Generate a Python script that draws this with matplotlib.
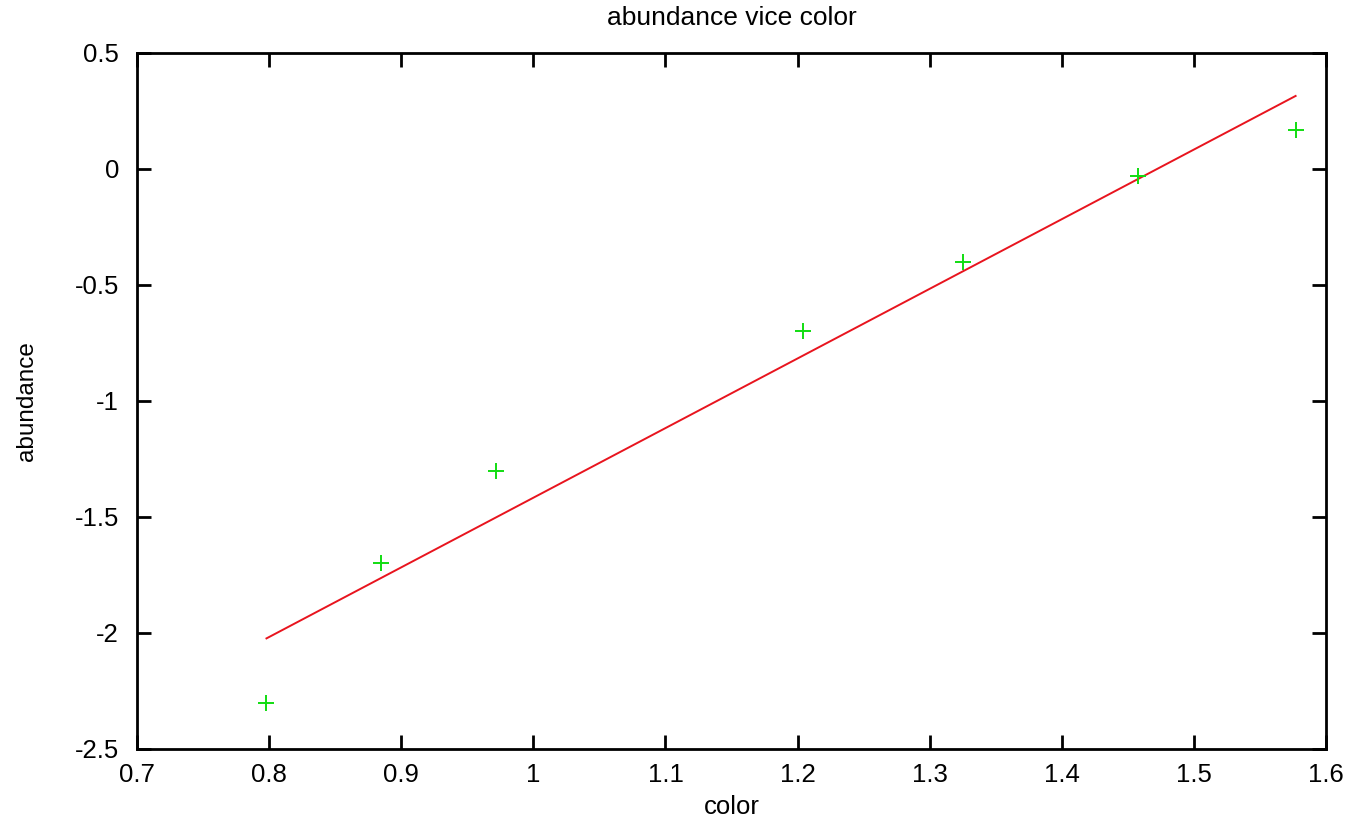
import numpy as np
import matplotlib
matplotlib.use("Agg")
import matplotlib.pyplot as plt

plt.rcParams['font.family'] = ['Liberation Sans', 'DejaVu Sans']

# Measured colour index and abundance
color = [0.798, 0.885, 0.972, 1.204, 1.325, 1.458, 1.577]
abundance = [-2.30, -1.70, -1.30, -0.70, -0.40, -0.03, 0.17]

x_ticks = [0.7, 0.8, 0.9, 1.0, 1.1, 1.2, 1.3, 1.4, 1.5, 1.6]
x_tick_labels = ["0.7", "0.8", "0.9", "1", "1.1", "1.2", "1.3", "1.4", "1.5", "1.6"]
y_ticks = [-2.5, -2.0, -1.5, -1.0, -0.5, 0.0, 0.5]
y_tick_labels = ["-2.5", "-2", "-1.5", "-1", "-0.5", "0", "0.5"]

fig = plt.figure(figsize=(13.7, 8.18), dpi=100)
ax = fig.add_axes([137 / 1370, 1 - 749 / 818, (1326 - 137) / 1370, (749 - 53) / 818])

# Linear least-squares fit across the data range
slope, intercept = np.polyfit(color, abundance, 1)
fit_x = np.array([min(color), max(color)])
fit_y = slope * fit_x + intercept

ax.plot(color, abundance, linestyle='none', marker='+', markersize=12,
        markeredgewidth=1.4, color='#11dd11', zorder=3)
ax.plot(fit_x, fit_y, color='#e8141e', linewidth=1.4, zorder=2)

ax.set_xlim(0.7, 1.6)
ax.set_ylim(-2.5, 0.5)
ax.set_xticks(x_ticks)
ax.set_xticklabels(x_tick_labels)
ax.set_yticks(y_ticks)
ax.set_yticklabels(y_tick_labels)

ax.tick_params(direction='in', length=10, width=2, labelsize=18.5,
               top=True, right=True, colors='black')
ax.tick_params(axis='x', pad=10)
ax.tick_params(axis='y', pad=13)
for spine in ax.spines.values():
    spine.set_linewidth(2)

ax.set_xlabel("color", fontsize=18.5, labelpad=6)
ax.set_ylabel("abundance", fontsize=17.5, labelpad=26)
ax.set_title("abundance vice color", fontsize=19, pad=20)

fig.savefig("out.png", dpi=100)
